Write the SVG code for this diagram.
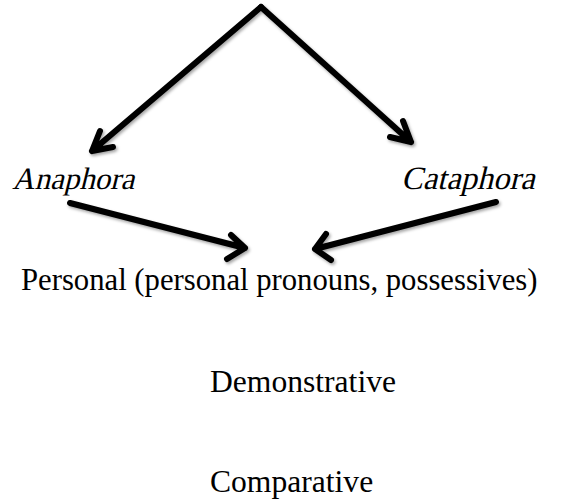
<svg xmlns="http://www.w3.org/2000/svg" width="563" height="502" viewBox="0 0 563 502">
<defs>
<filter id="sh" x="-20%" y="-20%" width="140%" height="140%">
<feDropShadow dx="1.5" dy="2" stdDeviation="1.5" flood-color="#000" flood-opacity="0.35"/>
</filter>
<style>
.t{font-family:"Liberation Serif","Times New Roman",serif;font-size:30.7px;fill:#000}
.b{font-size:31.6px}
.i{font-size:31px}
.c{font-size:32.5px}
.a{stroke:#000;stroke-width:6;fill:none;stroke-linecap:round;stroke-linejoin:round}
</style>
</defs>
<rect width="563" height="502" fill="#fff"/>
<g id="connectors" filter="url(#sh)">
<path class="a" d="M261 7 L92 151 M100 131 L92 151 L113 147"/>
<path class="a" d="M261 7 L411 142 M403 121 L411 142 L390 137"/>
<path class="a" d="M70 203 L245 248 M231 235 L245 248 L227 259"/>
<path class="a" d="M496 202 L315 249 M331 260 L315 249 L326 234"/>
</g>
<g id="anaphora"><text class="t i" transform="translate(12 189) skewX(-14)">Anaphora</text></g>
<g id="cataphora"><text class="t c" transform="translate(401 189) skewX(-14)">Cataphora</text></g>
<g id="personal"><text class="t" x="21" y="290">Personal (personal pronouns, possessives)</text></g>
<g id="demonstrative"><text class="t b" x="210" y="391.5">Demonstrative</text></g>
<g id="comparative"><text class="t b" x="210" y="492">Comparative</text></g>
</svg>
